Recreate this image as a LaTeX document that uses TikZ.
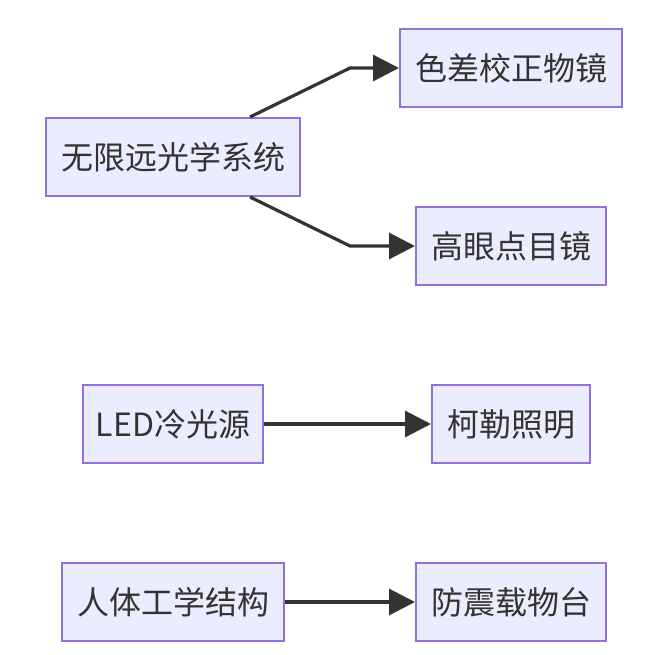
\documentclass[tikz,border=0pt]{standalone}
\usepackage{fontspec}
\setmainfont{Noto Sans CJK SC}
\usetikzlibrary{arrows.meta}
\definecolor{boxfill}{HTML}{ECECFF}
\definecolor{boxdraw}{HTML}{9370DB}
\definecolor{linec}{HTML}{333333}
\tikzset{
  box/.style={draw=boxdraw, fill=boxfill, line width=2pt, text=linec,
    inner sep=0pt, font=\fontsize{32}{37}\selectfont},
  conn/.style={draw=linec, line width=3.2pt,
    -{Triangle[length=26pt,width=26pt]}, shorten >=0pt},
}
\begin{document}
\begin{tikzpicture}[x=1pt,y=-1pt]
\useasboundingbox (0,0) rectangle (660,654);
\node[box, minimum width=254pt, minimum height=78pt] (a) at (173,157) {无限远光学系统};
\node[box, minimum width=222pt, minimum height=78pt] (b) at (511,68) {色差校正物镜};
\node[box, minimum width=190pt, minimum height=78pt] (c) at (511,246) {高眼点目镜};
\node[box, minimum width=180pt, minimum height=78pt] (d) at (173,424) {LED冷光源};
\node[box, minimum width=158pt, minimum height=78pt] (e) at (511,424) {柯勒照明};
\node[box, minimum width=222pt, minimum height=78pt] (f) at (173,602) {人体工学结构};
\node[box, minimum width=190pt, minimum height=78pt] (g) at (511,602) {防震载物台};
\coordinate (ab) at (350,68);
\coordinate (ac) at (350,246);
\draw[conn] ([xshift=77pt]a.north) -- (ab) -- (b.west);
\draw[conn] ([xshift=77pt]a.south) -- (ac) -- (c.west);
\draw[conn] (d.east) -- (e.west);
\draw[conn] (f.east) -- (g.west);
\end{tikzpicture}
\end{document}
